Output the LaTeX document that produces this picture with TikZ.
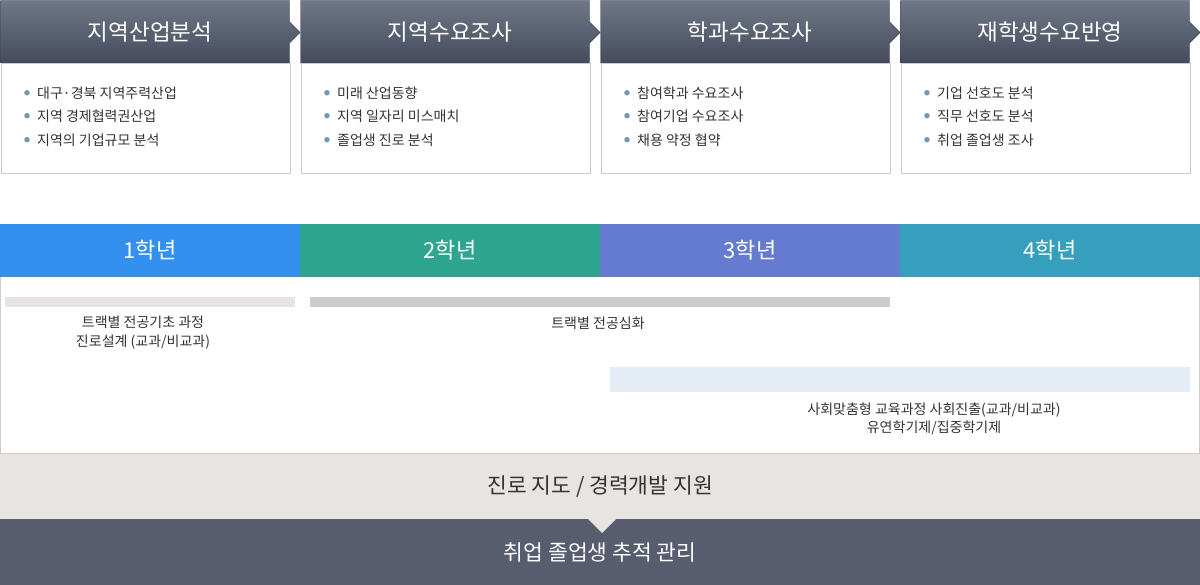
\documentclass[tikz,border=0pt]{standalone}
\usepackage{fontspec}
\setmainfont{Noto Sans CJK KR}
\usepackage{tikz}
\usetikzlibrary{positioning}
\definecolor{headtop}{RGB}{112,120,135}
\definecolor{headbot}{RGB}{67,75,93}
\definecolor{headline}{RGB}{58,66,82}
\definecolor{boxline}{RGB}{204,204,204}
\definecolor{bulletcolor}{RGB}{122,150,170}
\definecolor{textgray}{RGB}{51,51,51}
\definecolor{yearone}{RGB}{51,144,238}
\definecolor{yeartwo}{RGB}{46,165,143}
\definecolor{yearthree}{RGB}{100,123,207}
\definecolor{yearfour}{RGB}{54,159,189}
\definecolor{barone}{RGB}{232,228,228}
\definecolor{bartwo}{RGB}{203,203,203}
\definecolor{barthree}{RGB}{228,236,245}
\definecolor{guidecolor}{RGB}{232,228,226}
\definecolor{trackcolor}{RGB}{87,93,111}

\newcommand{\bitem}[1]{\textcolor{bulletcolor}{\fontsize{6}{6}\selectfont\raisebox{3pt}{●}}\hspace{7pt}#1}

\begin{document}
\begin{tikzpicture}[
    x=1pt, y=-1pt,
    stage/.style={font=\fontsize{22.5}{26}\selectfont, text=white},
    content/.style={draw=boxline, fill=white, minimum width=289pt, minimum height=110pt, anchor=north west, inner sep=0pt},
    items/.style={anchor=north west, align=left, inner sep=0pt, text=textgray, font=\fontsize{14}{23.5}\selectfont},
    year/.style={minimum width=300pt, minimum height=53pt, inner sep=0pt, text=white, font=\fontsize{22}{26}\selectfont},
    course/.style={align=center, inner sep=0pt, text=textgray, font=\fontsize{14}{18.5}\selectfont},
    band/.style={minimum width=1200pt, minimum height=66pt, anchor=north west, inner sep=0pt, font=\fontsize{21.5}{26}\selectfont}
]
    \useasboundingbox (0,0) rectangle (1200,585);

    % Stage headers
    \shade[top color=headtop, bottom color=headbot, draw=headline] (0.5,0.5) -- (289.5,0.5) -- (289.5,22) -- (300,32.5) -- (289.5,43) -- (289.5,63) -- (0.5,63) -- cycle;
    \shade[top color=headtop, bottom color=headbot, draw=headline] (300.5,0.5) -- (589.5,0.5) -- (589.5,22) -- (600,32.5) -- (589.5,43) -- (589.5,63) -- (300.5,63) -- cycle;
    \shade[top color=headtop, bottom color=headbot, draw=headline] (600.5,0.5) -- (889.5,0.5) -- (889.5,22) -- (900,32.5) -- (889.5,43) -- (889.5,63) -- (600.5,63) -- cycle;
    \shade[top color=headtop, bottom color=headbot, draw=headline] (900.5,0.5) -- (1189.5,0.5) -- (1189.5,22) -- (1200,32.5) -- (1189.5,43) -- (1189.5,63) -- (900.5,63) -- cycle;
    \node[stage] (h1) at (150,32.5) {지역산업분석};
    \node[stage] (h2) at (450,32.5) {지역수요조사};
    \node[stage] (h3) at (750,32.5) {학과수요조사};
    \node[stage] (h4) at (1050,32.5) {재학생수요반영};

    % Stage contents
    \node[content] (c1) at (0.5,63) {};
    \node[content] (c2) at (300.5,63) {};
    \node[content] (c3) at (600.5,63) {};
    \node[content] (c4) at (900.5,63) {};
    \node[items] at (24,86.5) {\bitem{대구·경북 지역주력산업}\\ \bitem{지역 경제협력권산업}\\ \bitem{지역의 기업규모 분석}};
    \node[items] at (324,86.5) {\bitem{미래 산업동향}\\ \bitem{지역 일자리 미스매치}\\ \bitem{졸업생 진로 분석}};
    \node[items] at (624,86.5) {\bitem{참여학과 수요조사}\\ \bitem{참여기업 수요조사}\\ \bitem{채용 약정 협약}};
    \node[items] at (924,86.5) {\bitem{기업 선호도 분석}\\ \bitem{직무 선호도 분석}\\ \bitem{취업 졸업생 조사}};

    % Years
    \node[year, fill=yearone] (y1) at (150,250.5) {1학년};
    \node[year, fill=yeartwo] (y2) at (450,250.5) {2학년};
    \node[year, fill=yearthree] (y3) at (750,250.5) {3학년};
    \node[year, fill=yearfour] (y4) at (1050,250.5) {4학년};

    % Course panel
    \draw[boxline] (0.5,277) -- (0.5,453);
    \draw[boxline] (1199.5,277) -- (1199.5,453);
    \fill[barone] (5,297) rectangle (295,307);
    \fill[bartwo] (310,297) rectangle (890,307);
    \fill[barthree] (610,367) rectangle (1190,392);
    \node[course] (basic) at (143,332.5) {트랙별 전공기초 과정\\진로설계 (교과/비교과)};
    \node[course] (major) at (598,323) {트랙별 전공심화};
    \node[course] (social) at (934,419) {사회맞춤형 교육과정 사회진출(교과/비교과)\\유연학기제/집중학기제};

    % Bottom bands
    \node[band, fill=guidecolor, text=textgray] (guide) at (0,453) {진로 지도 / 경력개발 지원};
    \node[band, fill=trackcolor, text=white] (track) at (0,519) {취업 졸업생 추적 관리};
    \fill[guidecolor] (588,519) -- (616,519) -- (602,533) -- cycle;
    \draw[boxline] (0,453.5) -- (1200,453.5);
\end{tikzpicture}
\end{document}
